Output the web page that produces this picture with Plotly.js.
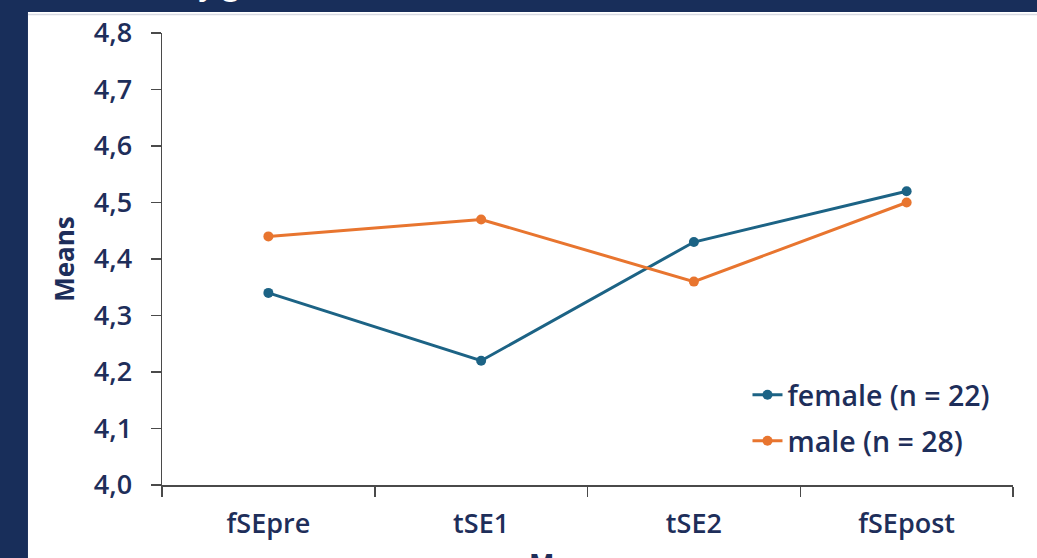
<!DOCTYPE html>
<html>
<head>
<meta charset="utf-8">
<script src="https://cdn.plot.ly/plotly-3.0.1.min.js"></script>
<style>html,body{margin:0;padding:0;background:#182e5a;}#chart{width:1037px;height:558px;}</style>
</head>
<body>
<div id="chart"></div>
<script>
const categories = ["fSEpre", "tSE1", "tSE2", "fSEpost"];
const femaleMeans = [4.34, 4.22, 4.43, 4.52];
const maleMeans = [4.44, 4.47, 4.36, 4.50];
const seriesNames = ["female (n = 22)", "male (n = 28)"];
const yTicks = [4.0, 4.1, 4.2, 4.3, 4.4, 4.5, 4.6, 4.7, 4.8];

const navy = "#1e2e5a";
const font = {family: "Open Sans, sans-serif", size: 27, color: navy, weight: 600};

const traces = [
  {x: categories, y: femaleMeans, name: seriesNames[0], legendgroup: "f", type: "scatter", mode: "lines+markers",
   line: {color: "#1c6385", width: 3}, marker: {color: "#1c6385", size: 10}},
  {x: categories, y: maleMeans, name: seriesNames[1], legendgroup: "m", type: "scatter", mode: "lines+markers",
   line: {color: "#e8752f", width: 3}, marker: {color: "#e8752f", size: 10}}
];

const layout = {
  width: 1037, height: 558,
  margin: {l: 162, r: 24, t: 33, b: 73},
  paper_bgcolor: "#182e5a",
  plot_bgcolor: "#ffffff",
  separators: ",.",
  font: font,
  showlegend: true,
  legend: {x: 0.688, y: 0.255, xanchor: "left", yanchor: "top", bgcolor: "rgba(0,0,0,0)",
           font: {family: "Open Sans, sans-serif", size: 28.5, color: navy, weight: 600},
           traceorder: "grouped", tracegroupgap: 6, itemwidth: 30},
  xaxis: {
    type: "category", range: [-0.5, 3.5], tickson: "boundaries",
    ticks: "outside", ticklen: 10, tickwidth: 1.5, tickcolor: "#4a4a4a",
    showline: true, linecolor: "#4a4a4a", linewidth: 1.5, showgrid: false, zeroline: false,
    tickfont: font, automargin: false, ticklabelstandoff: 14
  },
  yaxis: {
    range: [4.0, 4.8], tickvals: yTicks, tickformat: ".1f",
    ticks: "outside", ticklen: 10, tickwidth: 1.5, tickcolor: "#4a4a4a",
    showline: true, linecolor: "#4a4a4a", linewidth: 1.5, showgrid: false, zeroline: false,
    tickfont: font, automargin: false, ticklabelstandoff: 13,
    title: {text: "Means", font: {family: "Open Sans, sans-serif", size: 26, color: navy, weight: 700}, standoff: 12}
  },
  shapes: [
    {type: "rect", xref: "paper", yref: "paper", x0: -0.1575, x1: 1.1, y0: -0.3, y1: 1.0465,
     fillcolor: "#ffffff", line: {width: 0}, layer: "below"},
    {type: "line", xref: "paper", yref: "paper", x0: -0.1575, x1: 1.1, y0: 1.041, y1: 1.041,
     line: {color: "#d8dae2", width: 1.5}, layer: "below"}
  ],
  annotations: [
    {text: "by gender,", xref: "paper", yref: "paper", x: 0.0188, y: 1.06, xanchor: "left", yanchor: "bottom",
     showarrow: false, font: {family: "Open Sans, sans-serif", size: 30, color: "#ffffff", weight: 600}},
    {text: "Measure", xref: "paper", yref: "paper", x: 0.5, y: -0.126, xanchor: "center", yanchor: "top",
     showarrow: false, font: {family: "Open Sans, sans-serif", size: 27, color: navy, weight: 700}}
  ]
};

Plotly.newPlot("chart", traces, layout, {displayModeBar: false, staticPlot: true});
</script>
</body>
</html>
